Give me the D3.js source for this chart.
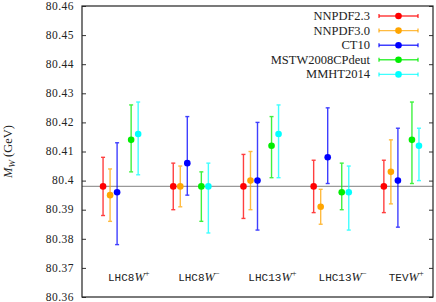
<!DOCTYPE html>
<html>
<head>
<meta charset="utf-8">
<script src="https://cdn.jsdelivr.net/npm/d3@7"></script>
<style>
  body { margin: 0; background: #fff; }
  svg text { font-family: "Liberation Serif", serif; fill: #222; }
</style>
</head>
<body>
<div id="chart"></div>
<script>
// categories (process + W charge)
const procs = ["LHC8", "LHC8", "LHC13", "LHC13", "TEV"];
const charges = ["+", "\u2212", "+", "\u2212", "+"];

// series names / colours
const seriesNames = ["NNPDF2.3", "NNPDF3.0", "CT10", "MSTW2008CPdeut", "MMHT2014"];
const seriesColors = ["#ff0000", "#ffa500", "#0000ff", "#00ee00", "#00ffff"];

// [central, low, high] per category
const nnpdf23 = [[80.398, 80.388, 80.408], [80.398, 80.390, 80.406], [80.398, 80.387, 80.409], [80.398, 80.389, 80.407], [80.398, 80.389, 80.407]];
const nnpdf30 = [[80.395, 80.386, 80.404], [80.398, 80.391, 80.405], [80.400, 80.390, 80.410], [80.391, 80.385, 80.397], [80.403, 80.392, 80.414]];
const ct10 = [[80.396, 80.378, 80.413], [80.406, 80.395, 80.422], [80.400, 80.383, 80.420], [80.408, 80.399, 80.425], [80.400, 80.384, 80.418]];
const mstw = [[80.414, 80.403, 80.426], [80.398, 80.386, 80.403], [80.412, 80.401, 80.422], [80.396, 80.390, 80.406], [80.414, 80.399, 80.427]];
const mmht = [[80.416, 80.402, 80.427], [80.398, 80.382, 80.406], [80.416, 80.401, 80.426], [80.396, 80.383, 80.405], [80.412, 80.400, 80.418]];

const allSeries = [nnpdf23, nnpdf30, ct10, mstw, mmht];
const offsets = [0.3, 0.4, 0.5, 0.7, 0.8];
const refLine = 80.398;
const yTicks = [80.36, 80.37, 80.38, 80.39, 80.4, 80.41, 80.42, 80.43, 80.44, 80.45, 80.46];

const w = 436, h = 302;
const padL = 82, padR = 433, padT = 6, padB = 297;

const x = d3.scaleLinear().domain([0, 5]).range([padL, padR]);
const y = d3.scaleLinear().domain([80.36, 80.46]).range([padB, padT]);

const svg = d3.select("#chart").append("svg")
  .attr("width", w).attr("height", h);

// reference line
svg.append("line")
  .attr("x1", padL).attr("x2", padR)
  .attr("y1", y(refLine)).attr("y2", y(refLine))
  .attr("stroke", "#999").attr("stroke-width", 1.3);

// axes
const yAxis = d3.axisLeft(y).tickValues(yTicks).tickSize(-4).tickSizeOuter(0).tickPadding(8)
  .tickFormat(d => d3.format("")(+d.toFixed(2)));
const gy = svg.append("g").attr("transform", `translate(${padL},0)`).call(yAxis);
gy.selectAll("text")
  .style("font-size", "11.5px")
  .style("letter-spacing", "0.5px")
  .style("font-family", "Liberation Serif")
  .attr("dy", "0.28em");
gy.select(".domain").remove();

const gr = svg.append("g").attr("transform", `translate(${padR},0)`)
  .call(d3.axisRight(y).tickValues(yTicks).tickSize(-4).tickSizeOuter(0).tickFormat(""));
gr.select(".domain").remove();

svg.selectAll(".tick line").attr("stroke", "#333");

// frame
svg.append("rect")
  .attr("x", padL).attr("y", padT)
  .attr("width", padR - padL).attr("height", padB - padT)
  .attr("fill", "none").attr("stroke", "#222").attr("stroke-width", 1.2);

// y label
svg.append("text")
  .attr("transform", `translate(12,${(padT + padB) / 2}) rotate(-90)`)
  .attr("text-anchor", "middle")
  .style("font-size", "12.5px")
  .call(t => {
    t.append("tspan").attr("font-style", "italic").text("M");
    t.append("tspan").attr("font-style", "italic").attr("font-size", "9px").attr("dy", 3).text("W");
    t.append("tspan").attr("dy", -3).text(" (GeV)");
  });

// category labels
const cat = svg.selectAll(".cat").data(procs).enter().append("text")
  .attr("class", "cat")
  .attr("x", (d, i) => x(i + 0.37))
  .attr("y", 281)
  .style("font-size", "11px");
cat.append("tspan").style("font-family", "Liberation Mono").style("font-size", "11px").text(d => d);
cat.append("tspan").attr("font-style", "italic").style("font-size", "12.5px").text("W");
cat.append("tspan").attr("dy", -5).style("font-size", "8.5px").text((d, i) => charges[i]);

// error bars and points
const cap = 2;
allSeries.forEach((series, s) => {
  const g = svg.append("g");
  const col = seriesColors[s];
  const bars = g.selectAll(".bar").data(series).enter().append("g")
    .attr("stroke", col).attr("stroke-width", 1.4).attr("opacity", 0.75);
  bars.append("line")
    .attr("x1", (d, i) => x(i + offsets[s])).attr("x2", (d, i) => x(i + offsets[s]))
    .attr("y1", d => y(d[1])).attr("y2", d => y(d[2]));
  bars.append("line")
    .attr("x1", (d, i) => x(i + offsets[s]) - cap).attr("x2", (d, i) => x(i + offsets[s]) + cap)
    .attr("y1", d => y(d[1])).attr("y2", d => y(d[1]));
  bars.append("line")
    .attr("x1", (d, i) => x(i + offsets[s]) - cap).attr("x2", (d, i) => x(i + offsets[s]) + cap)
    .attr("y1", d => y(d[2])).attr("y2", d => y(d[2]));
  g.selectAll("circle").data(series).enter().append("circle")
    .attr("cx", (d, i) => x(i + offsets[s]))
    .attr("cy", d => y(d[0]))
    .attr("r", 3.3)
    .attr("fill", col);
});

// legend
const leg = svg.selectAll(".leg").data(seriesNames).enter().append("g")
  .attr("class", "leg")
  .attr("transform", (d, i) => `translate(0,${16 + i * 14.6})`);
leg.append("text")
  .attr("x", 370).attr("y", 4)
  .attr("text-anchor", "end")
  .style("font-size", "12.5px")
  .text(d => d);
leg.append("line").attr("x1", 379).attr("x2", 418)
  .attr("stroke", (d, i) => seriesColors[i]).attr("stroke-width", 1.4).attr("opacity", 0.75);
leg.append("line").attr("x1", 379).attr("x2", 379).attr("y1", -2).attr("y2", 2)
  .attr("stroke", (d, i) => seriesColors[i]).attr("stroke-width", 1.4).attr("opacity", 0.75);
leg.append("line").attr("x1", 418).attr("x2", 418).attr("y1", -2).attr("y2", 2)
  .attr("stroke", (d, i) => seriesColors[i]).attr("stroke-width", 1.4).attr("opacity", 0.75);
leg.append("circle").attr("cx", 398.5).attr("cy", 0).attr("r", 3.3)
  .attr("fill", (d, i) => seriesColors[i]);
</script>
</body>
</html>
